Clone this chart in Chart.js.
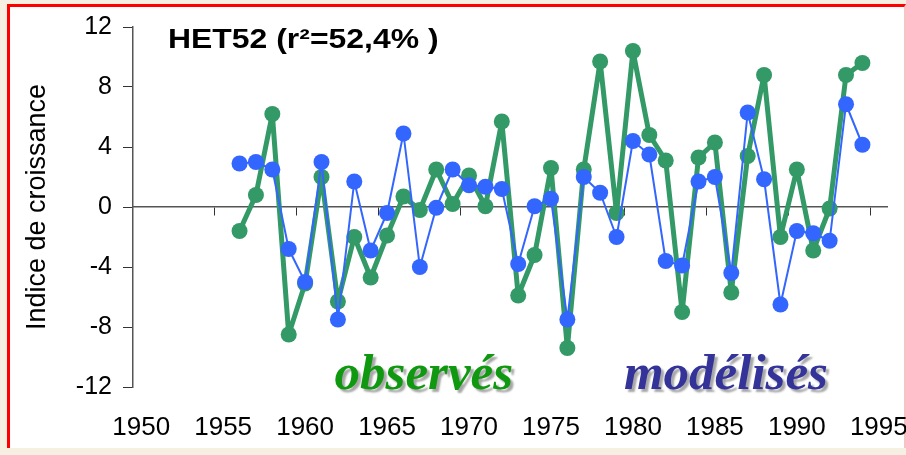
<!DOCTYPE html>
<html>
<head>
<meta charset="utf-8">
<script src="https://cdn.jsdelivr.net/npm/chart.js@4"></script>
<style>
  body { margin: 0; background: #f5f0e2; width: 906px; height: 455px; overflow: hidden; position: relative; }
  #frame { position: absolute; left: 7px; top: 4px; width: 899px; height: 444px; box-sizing: border-box;
           border: 3px solid #ff0000; border-bottom: none; border-right: 2px solid #f6c4c4; background: #fff; }
  #chart { position: absolute; left: 0; top: 0; }
</style>
</head>
<body>
<div id="frame"></div>
<canvas id="chart" width="906" height="455"></canvas>
<script>
const years = [1956, 1957, 1958, 1959, 1960, 1961, 1962, 1963, 1964, 1965,
               1966, 1967, 1968, 1969, 1970, 1971, 1972, 1973, 1974, 1975,
               1976, 1977, 1978, 1979, 1980, 1981, 1982, 1983, 1984, 1985,
               1986, 1987, 1988, 1989, 1990, 1991, 1992, 1993, 1994];
// indices observés (vert)
const observed = [-1.6, 0.8, 6.2, -8.5, -5.1, 2.0, -6.3, -2.0, -4.7, -1.9,
                  0.7, -0.2, 2.5, 0.2, 2.1, 0.05, 5.7, -5.9, -3.2, 2.6,
                  -9.4, 2.5, 9.7, -0.4, 10.4, 4.8, 3.1, -7.0, 3.3, 4.3,
                  -5.7, 3.4, 8.8, -2.0, 2.5, -2.9, -0.1, 8.8, 9.6];
// indices modélisés (bleu)
const modelled = [2.9, 3.0, 2.5, -2.8, -5.0, 3.0, -7.5, 1.7, -2.9, -0.4,
                  4.9, -4.0, -0.05, 2.5, 1.45, 1.35, 1.2, -3.8, 0.05, 0.55,
                  -7.5, 2.0, 0.95, -2.0, 4.4, 3.5, -3.6, -3.9, 1.7, 2.0,
                  -4.4, 6.3, 1.85, -6.5, -1.6, -1.75, -2.25, 6.85, 4.15];
const yearLabels = [1950, 1955, 1960, 1965, 1970, 1975, 1980, 1985, 1990, 1995];
const yTicks = [-12, -8, -4, 0, 4, 8, 12];
const titleText = 'HET52 (r\u00b2=52,4% )';
const yTitle = 'Indice de croissance';

const xMin = 1949.5;
const xMax = 1995.5;
const font = '"Liberation Sans", Arial, sans-serif';

// text drawn on top: title and the two series names
const textPlugin = {
    id: 'textPlugin',
    afterDraw(chart) {
        const ctx = chart.ctx;
        const area = chart.chartArea;
        const xs = chart.scales.x;
        ctx.save();
        ctx.fillStyle = '#000';
        ctx.font = 'bold 28px ' + font;
        ctx.textBaseline = 'alphabetic';
        ctx.translate(area.left + 35, area.top + 21);
        ctx.scale(1.14, 1);
        ctx.fillText(titleText, 0, 0);
        ctx.restore();

        ctx.save();
        ctx.font = 'italic bold 51px "Liberation Serif", "Times New Roman", serif';
        ctx.textBaseline = 'alphabetic';
        ctx.shadowColor = 'rgba(0,0,0,0.35)';
        ctx.shadowOffsetX = 3;
        ctx.shadowOffsetY = 3;
        ctx.shadowBlur = 2;
        ctx.fillStyle = '#109910';
        ctx.fillText('observés', xs.getPixelForValue(1961.8), area.bottom + 2);
        ctx.fillStyle = '#333399';
        ctx.fillText('modélisés', xs.getPixelForValue(1979.45), area.bottom + 2);
        ctx.restore();
    }
};

new Chart(document.getElementById('chart'), {
    type: 'line',
    data: {
        datasets: [{
            label: 'modélisés',
            data: years.map((y, i) => ({x: y, y: modelled[i]})),
            borderColor: '#3366ff',
            backgroundColor: '#3366ff',
            borderWidth: 2,
            borderJoinStyle: 'round',
            pointRadius: 8,
            pointBorderWidth: 0,
            order: 0
        }, {
            label: 'observés',
            data: years.map((y, i) => ({x: y, y: observed[i]})),
            borderColor: '#339966',
            backgroundColor: '#339966',
            borderWidth: 5,
            borderJoinStyle: 'round',
            pointRadius: 8,
            pointBorderWidth: 0,
            order: 1
        }]
    },
    options: {
        responsive: false,
        animation: false,
        layout: { padding: { left: 0, top: 27, right: 19, bottom: 0 } },
        plugins: { legend: { display: false }, tooltip: { enabled: false } },
        scales: {
            x: {
                type: 'linear',
                min: xMin,
                max: xMax,
                position: { y: 0 },
                afterBuildTicks: scale => {
                    const marks = [];
                    for (let v = 1954.5; v < xMax; v += 5) marks.push({value: v});
                    scale.ticks = marks;
                },
                afterFit: scale => { scale.paddingLeft = 0; scale.paddingRight = 0; },
                ticks: { display: false },
                grid: { drawOnChartArea: false, drawTicks: true, tickLength: 8, color: '#333' },
                border: { display: true, color: '#555', width: 1.5 }
            },
            x2: {
                type: 'linear',
                axis: 'x',
                min: xMin,
                max: xMax,
                position: 'bottom',
                afterBuildTicks: scale => { scale.ticks = yearLabels.map(v => ({value: v})); },
                afterFit: scale => { scale.height = 68; scale.paddingLeft = 0; scale.paddingRight = 0; },
                ticks: {
                    color: '#000',
                    font: { family: font, size: 26 },
                    padding: 25,
                    maxRotation: 0,
                    autoSkip: false,
                    callback: v => String(v)
                },
                grid: { display: false, drawTicks: false },
                border: { display: false }
            },
            y: {
                min: -12,
                max: 12,
                afterBuildTicks: scale => { scale.ticks = yTicks.map(v => ({value: v})); },
                afterFit: scale => { scale.width = 133; },
                ticks: {
                    color: '#000',
                    font: { family: font, size: 25 },
                    padding: 11,
                    callback: v => String(v)
                },
                grid: { drawOnChartArea: false, drawTicks: true, tickLength: 10, color: '#333' },
                border: { display: true, color: '#555', width: 1.5 },
                title: {
                    display: true,
                    text: yTitle,
                    color: '#000',
                    font: { family: font, size: 27 },
                    padding: { top: 21, bottom: 0 }
                }
            }
        }
    },
    plugins: [textPlugin]
});
</script>
</body>
</html>
